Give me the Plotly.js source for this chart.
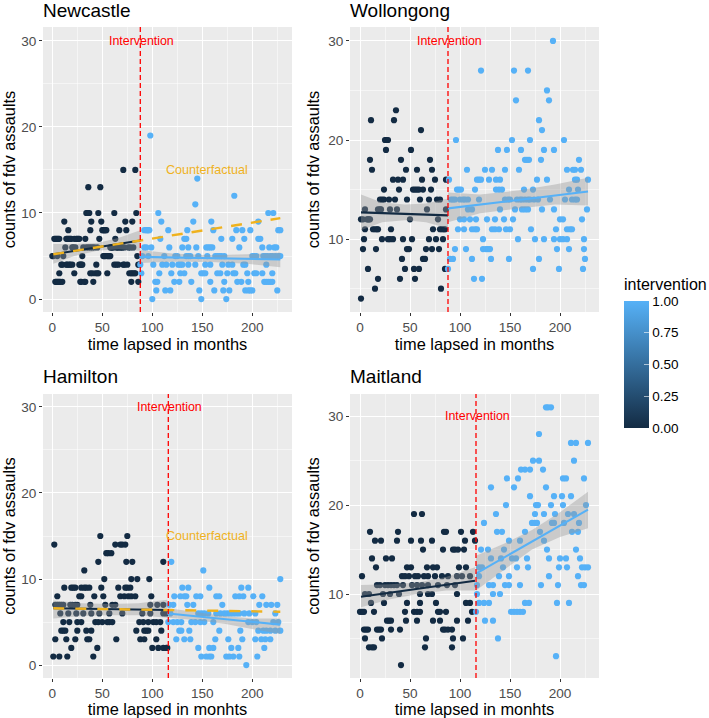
<!DOCTYPE html>
<html><head><meta charset="utf-8">
<script src="https://cdn.plot.ly/plotly-3.0.1.min.js"></script>
<style>html,body{margin:0;padding:0;background:#fff}#c{width:709px;height:718px}</style>
</head><body><div id="c"></div>
<script>
// ---------- Newcastle ----------
const ncPreLevels=[15,13,10,9,8,7,6,5,4,3,2];
const ncPreMonths=[[71,83],[36,48],[34,35,36,37,46,62,84],[12,39,49,73,80],[16,38,50,51,52,53,54,67,74],
[2,3,4,5,6,7,14,15,16,17,18,19,22,24,25,26,27,33,47,63],
[13,20,21,23,31,34,36,38,40,42,45,58,59,60,61,64,65,66,68,69,70,72,76,78,81],
[0,1,5,11,30,51,52,53,55,56,57,58,85],
[9,10,14,15,17,18,20,27,28,29,30,44,62,64,66,71,72,75,86,87],
[7,22,38,40,43,45,46,55,77,79,80,82,83],
[3,4,5,6,7,8,10,28,29,32,33,41,79,86]];
const ncPostLevels=[19,14,12,11,10,9,8,7,6,5,4,3,2,1,0];
const ncPostMonths=[[98],[145],[182],[143],[106,216,221],[109,141,159,206],
[92,94,95,96,97,116,135,161,184,190,198,226,228],[108,132,134,169,180,192,206,208],
[92,94,99,117,130,136,144,154,156,158,160,187,210,217,222,224],
[90,96,112,123,125,134,136,138,146,155,163,165,167,169,172,200,202,204,211,213,215,218,220,223,226,228],
[88,101,110,114,120,126,128,130,136,143,153,158,170,176,180,191,193,214],
[89,107,119,128,132,149,151,153,165,168,175,181,183,195,202,204,210,220],
[103,105,122,127,139,158,172,185,189,196,212,214,216,218,220],
[104,113,118,147,162,171,177,193,196,198,200,225],[100,149,174]];
const ncPreFit=[[1,88],[5.2,6.8]];
const ncPreBandX=[1,22,45,66,88], ncPreBandLow=[4.1,5.0,5.6,5.8,5.6], ncPreBandHigh=[6.4,6.4,6.5,7.1,8.0];
const ncPostFit=[[88,228],[4.9,4.6]];
const ncPostBandX=[88,120,158,195,228], ncPostBandLow=[4.2,4.35,4.3,4.1,3.7], ncPostBandHigh=[5.7,5.3,5.1,5.2,5.4];
const ncCounterFit=[[1,228],[5.2,9.4]];
// ---------- Wollongong ----------
const woPreLevels=[23,22,21,20,19,18,17,16,15,14,13,12,11,10,9,8,7,6,5,4];
const woPreMonths=[[36],[11,34],[61],[25,26,28],[26,51],[10,41,70],[12,46,57,72],[33,38,43,62,75,86],
[24,39,53,55,57,59,63,71],[20,22,24,29,35,47,60,69,77,80],[5,18,20,21,30,37,67,86],[1,3,7,8,9,10,50,78],
[5,13,15,17,18,31,73,80,82,84,85],[4,22,28,30,33,43,52,69,76,83],[3,16,47,49,66,72,79],[42,63,65],[8,45,54,59,85],[18,40,55],[15,81],[1]];
const woPostLevels=[30,27,25,24,22,21,20,19,18,17,16,15,14,13,12,11,10,9,8,7,6];
const woPostMonths=[[193],[121,154,168],[187],[156,189],[179],[182],[96,152,170,204],[138,147,161,184,194],[165,167,169,181,219],
[107,125,132,145,159,207,213,215,221],[89,117,119,121,129,136,140,177,187,215,217,228],[97,99,101,115,136,139,142,164,173,209,218],
[91,93,95,100,103,105,108,119,145,148,150,157,160,162,165,168,170,174,178,190,205,212,215,217],[108,112,140,155,162,165,168,182,194,227],
[100,104,110,116,127,135,144,153,200,203,222],[98,104,112,115,117,132,135,139,146,150,171,196,207,210,212],[123,158,175,184,194,200,203,207,224],
[95,106,123,126,128,130,197,209,224],[90,93,112,131,149,179,225],[88,173,199,223],[114,122]];
const woPreFit=[[1,88],[12.7,12.4]];
const woPreBandX=[1,22,45,66,88], woPreBandLow=[10.9,11.7,11.9,11.7,11.1], woPreBandHigh=[14.5,13.7,13.5,13.6,14.1];
const woPostFit=[[88,228],[13.1,14.8]];
const woPostBandX=[88,120,158,195,228], woPostBandLow=[11.7,12.6,13.1,13.5,13.4], woPostBandHigh=[14.7,14.5,14.9,15.5,16.2];
// ---------- Hamilton ----------
const haPreLevels=[15,14,13,12,11,10,9,8,7,6,5,4,3,2,1];
const haPreMonths=[[48,75],[2,63,68,70,73],[54,56,59],[46,74,80,111],[32],[52,79,85,97],
[12,19,21,23,29,32,34,37,49,66,73,75,78],[5,27,29,42,51,68,72,76,79,83,99],
[3,5,7,9,11,18,20,23,25,38,53,60,63,98,105,111],[8,16,24,31,39,47,57,70,90,98,111,114],
[11,17,25,29,43,46,50,55,57,60,87,91,96,101,104,108],[9,11,13,25,34,39,84,92,94,96,109],
[3,14,23,35,37,64,88,92,104],[19,45,100,106,111,114,115],[1,7,15,41]];
const haPostLevels=[12,11,10,9,8,7,6,5,4,3,2,1,0];
const haPostMonths=[[119],[151],[228],[130,136,157,189,196],[122,128,132,134,144,148,164,167,183,187,191,201,210],
[117,121,135,141,170,207,214,219,225],[118,146,149,152,156,164,168,172,175,178,181,184,187,192,197,203,223],
[116,121,125,129,139,143,148,152,161,196,200,204,221,226],[127,129,137,167,188,206,211,214,218,223,228],
[124,132,138,163,176,190,203,209,213,218],[146,157,161,179,186,212],[149,154,157,159,174,177,181,187,205],[194]];
const haPreFit=[[1,115],[6.6,6.4]];
const haPreBandX=[1,30,58,86,115], haPreBandLow=[5.4,5.7,5.8,5.8,5.5], haPreBandHigh=[7.5,7.2,7.1,7.2,7.6];
const haPostFit=[[116,228],[6.0,4.7]];
const haPostBandX=[116,145,172,200,228], haPostBandLow=[5.5,5.2,4.8,4.2,3.6], haPostBandHigh=[6.6,6.1,5.7,5.4,5.4];
const haCounterFit=[[1,228],[6.6,6.2]];
// ---------- Maitland ----------
const maPreLevels=[19,17,16,15,14,13,12,11,10,9,8,7,6,5,4,2];
const maPreMonths=[[54,62],[10,38,84,86,101,113],[15,21,37,51,61,72,105,115],[63,83,93,95,98,104],[12,26,32],[16,47,51,67,73,77,99,106],
[2,42,45,49,55,58,64,68,75,82,88,97,102,110],[17,20,25,28,31,34,37,43,52,57,62,68,78,87,95],[5,9,23,30,39,60,68,72,97],
[11,24,47,60,76,106,110],[0,2,4,14,45,54,57,60,78,80,86,112],[27,29,31,46,57,73,80,97,108],[4,6,8,17,19,21,31,40,83,85,88,92],
[5,22,66,93,103],[9,12,14,65,92],[41]];
const maPostLevels=[31,28,27,25,24,23,22,21,20,19,18,17,16,15,14,13,12,11,10,9,8,7,5,3];
const maPostMonths=[[186,188,191],[179],[211,216,228],[173,179,214],[161,165,170,183],[147,158,203,206,224],[131,154,186],[170,194,202,211],
[146,176,178,191,203,226],[136,175,184,195,208,214],[124,172,175,177,192,194,204,219],[137,142,165,180,212,218],[149,160,184],[121,128,144,187,216],
[131,141,152,156,167,189,200,206,220],[119,122,143,157,168,199,207,222,225,228],[119,139,149,189,218],[117,129,133,145,149,160,181,198,221,224],[117,133,140],
[119,124,129,165,169,197,209],[116,151,154,157,160,163],[125,133],[138],[196]];
const maPreFit=[[1,115],[9.7,11.5]];
const maPreBandX=[1,30,58,86,115], maPreBandLow=[8.5,9.4,10.0,10.4,10.4], maPreBandHigh=[11.0,11.1,11.3,11.9,13.0];
const maPostFit=[[116,228],[12.3,19.5]];
const maPostBandX=[116,145,172,200,228], maPostBandLow=[10.4,12.8,15.0,16.4,17.4], maPostBandHigh=[14.3,15.7,17.2,19.2,21.5];
// ---------- shared text ----------
const panelNames=['Newcastle','Wollongong','Hamilton','Maitland'];
const xTitles=['time lapsed in months','time lapsed in months','time lapsed in monhts','time lapsed in monhts'];
const yTitle='counts of fdv assaults';
const legendTitle='intervention';
const legendTicks=[0,0.25,0.5,0.75,1];
const legendLabels=['0.00','0.25','0.50','0.75','1.00'];
const interventionMonths=[88,88,116,116];
const DARK='#132B43',LIGHT='#56B1F7',BAND='rgba(153,153,153,0.4)',ORANGE='#EFB21E',RED='#FF0000';
const FONT='"Liberation Sans", Arial, sans-serif';
const W=709,H=718;

const px=[[43,292],[350,599],[43,292],[350,599]];
const py=[[27,312],[27,312],[394,678],[394,678]];
const xr=[[-9.3,239.7],[-10,239],[-9.3,239.7],[-10,239]];
const yr=[[-1.5,31.6],[2.65,31.4],[-1.5,31.5],[0.55,32.5]];
const yticks=[[0,10,20,30],[10,20,30],[0,10,20,30],[10,20,30]];

function flat(levels,months){const x=[],y=[];levels.forEach((l,i)=>months[i].forEach(m=>{x.push(m);y.push(l);}));return{x,y};}
const traces=[];
function pts(levels,months,val,i,scale){const d=flat(levels,months);const t={type:'scatter',mode:'markers',x:d.x,y:d.y,xaxis:'x'+(i+1),yaxis:'y'+(i+1),showlegend:false,hoverinfo:'skip',
 marker:{size:6.2,color:d.x.map(()=>val),cmin:0,cmax:1,colorscale:[[0,DARK],[1,LIGHT]],showscale:!!scale,line:{width:0}}};
 if(scale)t.marker.colorbar={x:624/W,xanchor:'left',xref:'paper',y:(H-428)/H,yanchor:'bottom',yref:'paper',lenmode:'pixels',len:127,thicknessmode:'pixels',thickness:25,xpad:0,ypad:0,
  outlinewidth:0,tickmode:'array',tickvals:legendTicks,ticktext:legendLabels,ticks:'inside',ticklen:5,tickcolor:'#fff',tickwidth:0.6,
  tickfont:{family:FONT,size:13.5,color:'#000'}};
 traces.push(t);}
function band(x,lo,hi,i){traces.push({type:'scatter',mode:'lines',x:x.concat(x.slice().reverse()),y:lo.concat(hi.slice().reverse()),fill:'toself',fillcolor:BAND,line:{width:0},xaxis:'x'+(i+1),yaxis:'y'+(i+1),showlegend:false,hoverinfo:'skip'});}
function fit(f,c,i,dash){traces.push({type:'scatter',mode:'lines',x:f[0],y:f[1],line:{color:c,width:dash?2.4:2.1,dash:dash||'solid'},xaxis:'x'+(i+1),yaxis:'y'+(i+1),showlegend:false,hoverinfo:'skip'});}

pts(ncPreLevels,ncPreMonths,0,0);pts(ncPostLevels,ncPostMonths,1,0);
band(ncPreBandX,ncPreBandLow,ncPreBandHigh,0);band(ncPostBandX,ncPostBandLow,ncPostBandHigh,0);
fit(ncPreFit,DARK,0);fit(ncPostFit,LIGHT,0);fit(ncCounterFit,ORANGE,0,'11px,9px');
pts(woPreLevels,woPreMonths,0,1);pts(woPostLevels,woPostMonths,1,1,true);
band(woPreBandX,woPreBandLow,woPreBandHigh,1);band(woPostBandX,woPostBandLow,woPostBandHigh,1);
fit(woPreFit,DARK,1);fit(woPostFit,LIGHT,1);
pts(haPreLevels,haPreMonths,0,2);pts(haPostLevels,haPostMonths,1,2);
band(haPreBandX,haPreBandLow,haPreBandHigh,2);band(haPostBandX,haPostBandLow,haPostBandHigh,2);
fit(haPreFit,DARK,2);fit(haPostFit,LIGHT,2);fit(haCounterFit,ORANGE,2,'11px,11px');
pts(maPreLevels,maPreMonths,0,3);pts(maPostLevels,maPostMonths,1,3);
band(maPreBandX,maPreBandLow,maPreBandHigh,3);band(maPostBandX,maPostBandLow,maPostBandHigh,3);
fit(maPreFit,DARK,3);fit(maPostFit,LIGHT,3);

const layout={width:W,height:H,margin:{l:0,r:0,t:0,b:0},paper_bgcolor:'#fff',plot_bgcolor:'#EBEBEB',font:{family:FONT},showlegend:false,annotations:[],shapes:[]};
const titleY=[10,10,376.5,376.5];
for(let i=0;i<4;i++){
 const n=i+1;
 layout['xaxis'+n]={domain:[px[i][0]/W,px[i][1]/W],range:xr[i],anchor:'y'+n,tickmode:'array',tickvals:[0,50,100,150,200],ticks:'outside',ticklen:3,tickcolor:'#333',tickwidth:1,
  tickfont:{family:FONT,size:13.6,color:'#4D4D4D'},showgrid:true,gridcolor:'#fff',gridwidth:1,zeroline:false,showline:false,
  minor:{tickvals:[25,75,125,175,225],showgrid:true,gridcolor:'#fff',gridwidth:0.5,ticks:''},
  title:{text:xTitles[i],standoff:2,font:{family:FONT,size:16.4,color:'#000'}},automargin:false};
 layout['yaxis'+n]={domain:[(H-py[i][1])/H,(H-py[i][0])/H],range:yr[i],anchor:'x'+n,tickmode:'array',tickvals:yticks[i],ticks:'outside',ticklen:3,tickcolor:'#333',tickwidth:1,
  tickfont:{family:FONT,size:13.6,color:'#4D4D4D'},showgrid:true,gridcolor:'#fff',gridwidth:1,zeroline:false,showline:false,
  minor:{tickvals:[5,15,25],showgrid:true,gridcolor:'#fff',gridwidth:0.5,ticks:''},
  title:{text:yTitle,standoff:4,font:{family:FONT,size:16.4,color:'#000'}},automargin:false};
 layout.shapes.push({type:'line',xref:'x'+n,yref:'y'+n+' domain',x0:interventionMonths[i],x1:interventionMonths[i],y0:0,y1:1,line:{color:RED,width:1.3,dash:'5px,3px'}});
 layout.annotations.push({xref:'paper',yref:'paper',x:px[i][0]/W,y:(H-titleY[i])/H,xanchor:'left',yanchor:'middle',text:panelNames[i],showarrow:false,borderpad:0,font:{family:FONT,size:19,color:'#000'},xshift:-1});
 layout.annotations.push({xref:'x'+n,yref:'y'+n,x:interventionMonths[i]+1,y:30,text:'Intervention',showarrow:false,font:{family:FONT,size:12.4,color:RED}});
}
layout.annotations.push({xref:'x1',yref:'y1',x:155,y:15,text:'Counterfactual',showarrow:false,font:{family:FONT,size:12.6,color:ORANGE}});
layout.annotations.push({xref:'x3',yref:'y3',x:155,y:15,text:'Counterfactual',showarrow:false,font:{family:FONT,size:12.6,color:ORANGE}});
layout.annotations.push({xref:'paper',yref:'paper',x:623/W,y:(H-284)/H,xanchor:'left',yanchor:'middle',text:legendTitle,showarrow:false,borderpad:0,font:{family:FONT,size:16,color:'#000'}});
// left-hand legend ticks, drawn at the colour bar's own tick values
legendTicks.forEach(v=>layout.shapes.push({type:'line',xref:'paper',yref:'paper',x0:624/W,x1:629/W,y0:(H-428+127*v)/H,y1:(H-428+127*v)/H,line:{color:'#fff',width:0.6}}));
Plotly.newPlot('c',traces,layout,{displayModeBar:false,staticPlot:true});
</script></body></html>
